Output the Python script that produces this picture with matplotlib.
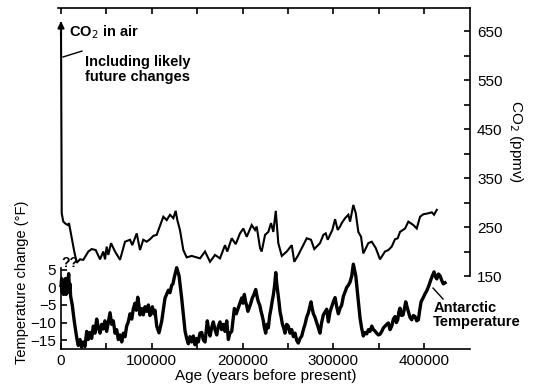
import matplotlib
matplotlib.use("Agg")
import matplotlib.pyplot as plt

plt.rcParams['font.family'] = ['Liberation Sans', 'DejaVu Sans']

# CO2 record (years before present, ppmv); first point is the projected future level
co2_age = [0, 800, 2500, 5500, 7700, 8800, 11800, 14600, 17300, 20900, 24600, 30100,
           33800, 38200, 43000, 46600, 48500, 50300, 52100, 55100, 59500, 65000, 70500,
           76000, 78500, 83400, 87000, 90600, 94400, 98000, 101700, 105400, 110100,
           112700, 116400, 120000, 123700, 126300, 128100, 131000, 134700, 138400,
           143900, 149400, 153100, 158600, 164100, 169600, 175100, 180600, 183100,
           188000, 192400, 197100, 200800, 204500, 210000, 213700, 215500, 219200,
           221000, 224700, 228300, 231300, 233800, 236500, 239300, 243100, 248600,
           254100, 256900, 261300, 266800, 270600, 275300, 278900, 285200, 288900,
           291500, 293700, 298800, 301800, 304700, 307300, 309100, 312800, 316400,
           318300, 321900, 324600, 327400, 330400, 332900, 338400, 342200, 346600,
           351300, 356800, 360500, 364200, 367800, 370800, 373300, 378900, 382500,
           388000, 391700, 395400, 399000, 404500, 408300, 410800, 413800]
co2_ppm = [666, 278, 261, 256, 254, 258, 228, 200, 177, 184, 183, 200,
           205, 203, 184, 200, 184, 210, 193, 217, 200, 183, 220,
           224, 213, 237, 203, 224, 220, 225, 232, 234, 258,
           271, 264, 275, 268, 283, 264, 244, 203, 188,
           191, 188, 186, 200, 179, 193, 186, 213, 200,
           227, 215, 237, 247, 230, 254, 244, 251, 207,
           200, 234, 240, 258, 240, 283, 217, 191, 200,
           213, 179, 193, 213, 227, 224, 205, 217, 234,
           237, 224, 244, 266, 244, 251, 258, 268, 275,
           261, 295, 278, 240, 230, 196, 217, 220, 207,
           184, 200, 203, 210, 225, 227, 240, 247, 261,
           254, 247, 271, 276, 278, 280, 275, 285]

# Antarctic temperature change (thousands of years before present, deg F)
temp_kyr = [0, 0.7, 1.4, 2.1, 2.8, 3.5, 4.2, 4.9, 5.6, 6.3, 7, 7.7, 8.5, 9.2, 9.9, 10.6,
            12.4, 14.6, 17.3, 19, 20.9, 22.7, 24.6, 26.4, 28.3, 30, 31.9, 33.7, 35.6,
            37.4, 39.3, 41.1, 43, 44.8, 46.6, 48.4, 50.3, 52.1, 54, 55.8, 57.6, 59.5,
            61.3, 63.1, 65, 66.9, 68.7, 70.5, 72.3, 74.1, 76, 77.9, 79.7, 81.5, 83,
            84.5, 85.8, 87, 88.8, 90.6, 92.5, 94.4, 96.2, 98, 99.3, 100.6, 102, 103.5,
            105.4, 107.9, 110.9, 114.5, 116.3, 118.2, 120, 121.9, 123.3, 124.8, 127.4,
            130, 132.9, 136.6, 138.4, 140.2, 142, 143.9, 145.7, 147.6, 149.4, 151.2,
            153, 155, 156.8, 158.6, 160, 161.1, 162.6, 164.1, 165.9, 167.7, 169.6,
            171.5, 173.3, 175.1, 176.9, 178.7, 180.6, 182.5, 184.3, 186, 188, 189.5,
            190.9, 193, 195.3, 197, 199, 200.5, 201.9, 203.2, 204.5, 205.8, 207, 209,
            210.7, 212.5, 214.4, 215.8, 217.3, 218.8, 220.3, 221.5, 222.8, 224, 225.4,
            226.8, 228.3, 229.8, 231.3, 232.5, 233.8, 235.2, 236.5, 237.6, 238.7, 240,
            241.2, 242.5, 243.7, 245.2, 246.7, 248.5, 250.3, 252.2, 254.1, 255.9,
            257.7, 259.5, 261.3, 263.2, 265.1, 266.9, 268.7, 270.5, 272.4, 274, 275.3,
            276.6, 277.9, 279.7, 281.6, 283.4, 285.2, 287, 288.9, 290.7, 292.6, 293.5,
            294.4, 296.2, 298.1, 300, 301.8, 303.6, 305.4, 307.2, 309.1, 311, 312.8,
            314.6, 316.4, 318.3, 320.2, 321.9, 323.2, 324.6, 325.7, 326.8, 328, 329.3,
            331, 332.9, 334.8, 336.7, 338.5, 340.3, 342.2, 344, 345.8, 347.6, 349.5,
            351.3, 353.2, 355, 356.8, 358.7, 360.5, 362.3, 364.2, 366, 367.8, 369.3,
            370.8, 372, 373.3, 375, 376.7, 378.2, 379.6, 381, 382.5, 384.3, 386.2, 388,
            389.9, 391.7, 393.5, 395, 396.5, 398.7, 400.9, 402.7, 404.5, 406.4, 408.3,
            410.8, 412.3, 413.8, 415.6, 417.4, 419.2, 421, 422.9]
temp_f = [0.5, 2.5, -1.5, 2, -2, 1.5, -1, 2.5, -2, 1, -1.5, 2, 3.9, -0.5, 1, -2.5,
          -5, -9.6, -14.3, -16.5, -14.8, -17, -15.5, -16.8, -12.5, -14.8, -12.8, -14.5, -11,
          -13, -9, -11.5, -13, -10.5, -11.8, -9.5, -12.5, -10, -7.2, -10.5, -9.5, -13,
          -12, -14.8, -13.5, -15.5, -13, -14, -11, -9.8, -7.5, -9, -6, -4.5, -6.5,
          -2.8, -5, -7.8, -6, -7.8, -5.5, -6.8, -5, -8, -6.5, -5.5, -7.5, -6.5,
          -11, -12.9, -9.6, -3.1, -2, -0.8, -1.5, 0.6, 1, 2.9, 5.6,
          3.3, -3.1, -12.4, -14.5, -16, -14, -15.5, -13.8, -16.3, -14.5, -15.5,
          -13, -12.8, -15, -15.5, -12, -9.5, -12, -13.8, -11.5, -9.8, -12,
          -13.5, -11, -9.8, -12, -10.5, -12.5, -9.5, -14.8, -13, -12.5, -9,
          -6, -7.5, -5.8, -4.5, -3, -4.5, -2, -4, -5.2, -6.8, -6, -4.5,
          -3, -2, -0.6, -2.5, -4.1, -5, -6.8, -8, -9.5, -11.5, -13,
          -10.5, -11.5, -8, -6, -4, -2.2, 0.5, 4.2, 1, -1.3, -4,
          -6.9, -8.5, -10.3, -11.5, -13, -10.5, -11, -13, -12, -14,
          -13, -15, -15.8, -14.5, -13.8, -12, -10.5, -8.5, -7.2, -5.5, -4.1,
          -6, -7.5, -8.5, -10, -11.5, -13, -10, -7.8, -7, -6.2, -8,
          -9.8, -7, -5.5, -4, -2.9, -5.5, -7.5, -6, -5, -2.5, -1.3,
          0, 0.6, 1.5, 3.3, 6.6, 5, 3.3, 0.5, -2.2, -5.5, -8.7,
          -11.5, -13.8, -12.8, -13.2, -12, -12.5, -11, -12, -12.4, -13, -13.5,
          -13.3, -12.5, -11.5, -11, -10.5, -10.1, -12, -11, -9, -8.3, -10,
          -9.2, -7, -5.9, -8, -7.8, -6, -4.1, -5.5, -6.9, -8.5, -9.2, -8,
          -8.3, -9.5, -9.2, -6.5, -4.1, -3, -1.8, -1, 0.1, 1.5, 2.9,
          4.4, 3, 2.4, 3.8, 3.3, 2, 1, 1.3]
temp_age = [k * 1000 for k in temp_kyr]

age_ticks = [0, 100000, 200000, 300000, 400000]
co2_ticks = [150, 250, 350, 450, 550, 650]
temp_ticks = [-15, -10, -5, 0, 5]

fig = plt.figure(figsize=(5.36, 3.90), dpi=100)

# upper panel: CO2, scale on the right
ax_c = fig.add_axes([0.1082, 0.2923, 0.7687, 0.6872])
ax_c.patch.set_alpha(0)
ax_c.plot(co2_age, co2_ppm, color='black', lw=1.5, solid_joinstyle='miter')
ax_c.annotate('', xy=(0, 670), xytext=(0, 640),
              arrowprops=dict(arrowstyle='-|>', color='black', lw=1.5,
                              mutation_scale=9, shrinkA=0, shrinkB=0))
ax_c.set_xlim(-3300, 450400)
ax_c.set_ylim(150, 697)
for s in ('left', 'bottom'):
    ax_c.spines[s].set_visible(False)
for s in ('top', 'right'):
    ax_c.spines[s].set_linewidth(1.2)
ax_c.yaxis.tick_right()
ax_c.yaxis.set_label_position('right')
ax_c.set_yticks(co2_ticks)
ax_c.set_yticks([200, 300, 400, 500, 600], minor=True)
ax_c.xaxis.tick_top()
ax_c.set_xticks(range(0, 450000, 50000))
ax_c.tick_params(axis='x', which='both', direction='in', length=4, width=1.2,
                 labeltop=False)
ax_c.tick_params(axis='y', which='both', direction='in', length=4, width=1.2,
                 labelsize=11, pad=5)
ax_c.set_ylabel('CO$_2$ (ppmv)', rotation=270, fontsize=11, labelpad=16)

ax_c.text(9000, 647, 'CO$_2$ in air', fontsize=10.5, fontweight='bold', va='center')
ax_c.plot([2200, 23000], [597, 609], color='black', lw=1)
ax_c.text(26000, 572, 'Including likely\nfuture changes', fontsize=10.5,
          fontweight='bold', va='center', linespacing=1.05)

# lower panel: temperature
ax_t = fig.add_axes([0.1138, 0.1051, 0.7631, 0.2077])
ax_t.patch.set_alpha(0)
ax_t.plot(temp_age, temp_f, color='black', lw=2.4, clip_on=False)
ax_t.set_xlim(0, 450400)
ax_t.set_ylim(-17.5, 5.5)
for s in ('top', 'right'):
    ax_t.spines[s].set_visible(False)
ax_t.spines['left'].set_linewidth(1.2)
ax_t.spines['bottom'].set_linewidth(1.2)
ax_t.set_xticks(age_ticks)
ax_t.set_xticklabels([str(a) for a in age_ticks])
ax_t.set_xticks([50000, 150000, 250000, 350000], minor=True)
ax_t.set_yticks(temp_ticks)
ax_t.tick_params(which='both', direction='in', length=4, width=1.2, labelsize=11)
ax_t.set_xlabel('Age (years before present)', fontsize=11, labelpad=1)

ax_t.text(0, 7.0, '??', fontsize=10, fontweight='bold', va='center')
ax_t.plot([409700, 420700], [-0.2, -3.3], color='black', lw=1, clip_on=False)
ax_t.text(410000, -7.8, 'Antarctic\nTemperature', fontsize=10.5, fontweight='bold',
          va='center', linespacing=1.0)

fig.text(0.041, 1 - 282 / 390, 'Temperature change (°F)', rotation=90,
         fontsize=10.5, ha='center', va='center')

fig.savefig('out.png', dpi=100)
